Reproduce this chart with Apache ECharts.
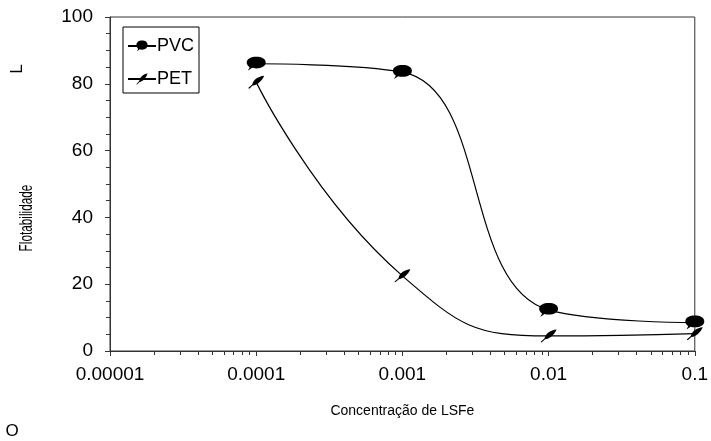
<!DOCTYPE html>
<html>
<head>
<meta charset="utf-8">
<script src="https://cdn.jsdelivr.net/npm/echarts@6/dist/echarts.min.js"></script>
<style>
  html, body { margin: 0; padding: 0; background: #fff; }
  #main { width: 711px; height: 441px; }
</style>
</head>
<body>
<div id="main"></div>
<script>
// dados
var concentrations = [0.0001, 0.001, 0.01, 0.1];
var pvcValues = [86, 83.5, 12.3, 8.5];
var petValues = [80.5, 22.5, 4.5, 5.2];
var xTickLabels = ['0.00001', '0.0001', '0.001', '0.01', '0.1'];
var yTickLabels = ['0', '20', '40', '60', '80', '100'];

var pvcSymbol = 'path://M3,6 C3,2.5 7,1 11,1 C15.5,1 19,2.5 19,6 C19,9 15.5,11 11,11 C9.5,11 8.5,10.8 7.5,10.5 L4,13 L5.5,10 C4,9 3,7.5 3,6 Z';
var petSymbol = 'path://M0,13 L4,9.5 C5,5 10,1.5 16,1 C14,5.5 9.5,10 4.5,10.5 L1,13.5 Z';

function pairs(xs, ys) {
    return xs.map(function (x, i) { return [x, ys[i]]; });
}

var font = 'Liberation Sans, Arial, sans-serif';

var myChart = echarts.init(document.getElementById('main'));
myChart.setOption({
    animation: false,
    grid: {
        left: 110, right: 14, top: 17, bottom: 90,
        show: true, borderColor: '#333', borderWidth: 1
    },
    legend: {
        left: 123, top: 27,
        orient: 'vertical',
        borderColor: '#000', borderWidth: 1,
        padding: [10, 5, 5, 4],
        itemGap: 15,
        itemWidth: 28, itemHeight: 14,
        textStyle: { fontFamily: font, fontSize: 18, color: '#000', padding: [0, 0, 0, -4] },
        data: ['PVC', 'PET']
    },
    xAxis: {
        type: 'log',
        logBase: 10,
        min: 0.00001, max: 0.1,
        name: 'Concentração de LSFe',
        nameLocation: 'middle',
        nameGap: 53,
        nameTextStyle: { fontFamily: font, fontSize: 14, color: '#000' },
        axisLine: { lineStyle: { color: '#333', width: 1 } },
        axisTick: { show: true, length: 5, lineStyle: { color: '#333' } },
        minorTick: { show: true, splitNumber: 9, length: 4, lineStyle: { color: '#333' } },
        splitLine: { show: false },
        axisLabel: {
            fontFamily: font, fontSize: 19, color: '#000', margin: 14,
            formatter: function (v, i) { return xTickLabels[i]; }
        }
    },
    yAxis: {
        type: 'value',
        min: 0, max: 100, interval: 20,
        axisLine: { show: true, lineStyle: { color: '#333', width: 1 } },
        axisTick: { show: true, length: 5, lineStyle: { color: '#333' } },
        minorTick: { show: true, splitNumber: 4, length: 4, lineStyle: { color: '#333' } },
        splitLine: { show: false },
        axisLabel: {
            fontFamily: font, fontSize: 19, color: '#000', margin: 17,
            formatter: function (v, i) { return yTickLabels[i]; }
        }
    },
    graphic: [
        {
            type: 'text', x: 27, y: 218, rotation: Math.PI / 2, scaleX: 0.62,
            style: { text: 'Flotabilidade', fontFamily: font, fontSize: 19, fill: '#000', align: 'center', verticalAlign: 'middle' }
        },
        {
            type: 'text', x: 17, y: 69, rotation: Math.PI / 2,
            style: { text: 'L', fontFamily: font, fontSize: 17, fill: '#000', align: 'center', verticalAlign: 'middle' }
        },
        {
            type: 'text', x: 12, y: 431,
            style: { text: 'O', fontFamily: font, fontSize: 17, fill: '#000', align: 'center', verticalAlign: 'middle' }
        }
    ],
    series: [
        {
            name: 'PVC',
            type: 'line',
            smooth: 0.45,
            data: pairs(concentrations, pvcValues),
            symbol: pvcSymbol,
            symbolSize: [19, 14],
            lineStyle: { color: '#000', width: 1.2 },
            itemStyle: { color: '#000' }
        },
        {
            name: 'PET',
            type: 'line',
            smooth: 0.5,
            data: pairs(concentrations, petValues),
            symbol: petSymbol,
            symbolSize: [16, 13],
            lineStyle: { color: '#000', width: 1.2 },
            itemStyle: { color: '#000' }
        }
    ]
});
</script>
</body>
</html>
